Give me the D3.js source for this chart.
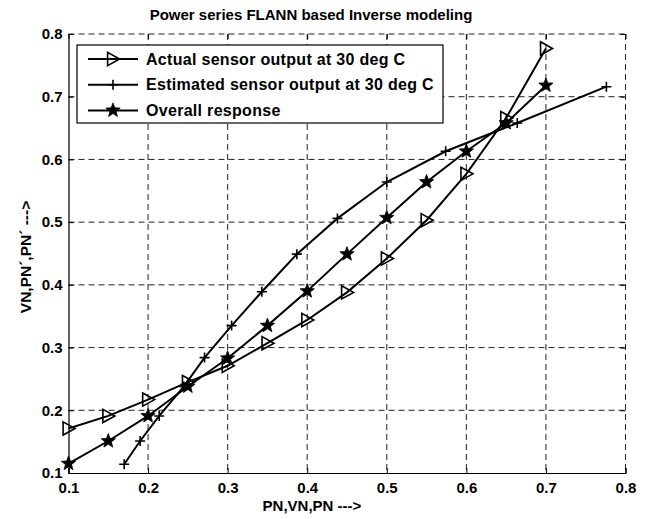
<!DOCTYPE html>
<html>
<head>
<meta charset="utf-8">
<script src="https://cdn.jsdelivr.net/npm/d3@7"></script>
<style>
  html, body { margin: 0; padding: 0; background: #fff; }
  svg { display: block; }
  text { font-family: "Liberation Sans", Arial, sans-serif; font-weight: bold; fill: #000; }
</style>
</head>
<body>
<svg id="chart" width="652" height="519"></svg>
<script>
// ---- data ----
const titleText = "Power series FLANN based Inverse modeling";
const xLabelText = "PN,VN,PN --->";
const yLabelText = "VN,PN\u00B4,PN\u00B4 --->";
const xTicks = [0.1, 0.2, 0.3, 0.4, 0.5, 0.6, 0.7, 0.8];
const yTicks = [0.1, 0.2, 0.3, 0.4, 0.5, 0.6, 0.7, 0.8];

const actualX = [0.10, 0.15, 0.20, 0.25, 0.30, 0.35, 0.40, 0.45, 0.50, 0.55, 0.60, 0.65, 0.70];
const actualY = [0.171, 0.191, 0.217, 0.245, 0.271, 0.307, 0.344, 0.388, 0.442, 0.503, 0.577, 0.666, 0.777];

const estimatedX = [0.170, 0.190, 0.214, 0.245, 0.271, 0.305, 0.343, 0.387, 0.438, 0.500, 0.574, 0.664, 0.776];
const estimatedY = [0.114, 0.151, 0.191, 0.238, 0.284, 0.335, 0.389, 0.449, 0.506, 0.564, 0.613, 0.658, 0.716];

const overallX = [0.10, 0.15, 0.20, 0.25, 0.30, 0.35, 0.40, 0.45, 0.50, 0.55, 0.60, 0.65, 0.70];
const overallY = [0.115, 0.151, 0.191, 0.238, 0.283, 0.335, 0.390, 0.449, 0.507, 0.564, 0.613, 0.658, 0.718];

const seriesNames = ["Actual sensor output at 30 deg C", "Estimated sensor output at 30 deg C", "Overall response"];

// ---- layout ----
const svg = d3.select("#chart");
const L = 68.5, R = 625.5, T = 34, B = 473;
const x = d3.scaleLinear().domain([0.1, 0.8]).range([L, R]);
const y = d3.scaleLinear().domain([0.1, 0.8]).range([B, T]);

// grid
const grid = svg.append("g");
xTicks.slice(1, -1).forEach(v => {
  grid.append("line").attr("x1", x(v)).attr("x2", x(v)).attr("y1", T).attr("y2", B)
    .attr("stroke", "#222").attr("stroke-width", 1).attr("stroke-dasharray", "6,4");
});
yTicks.slice(1, -1).forEach(v => {
  grid.append("line").attr("x1", L).attr("x2", R).attr("y1", y(v)).attr("y2", y(v))
    .attr("stroke", "#222").attr("stroke-width", 1).attr("stroke-dasharray", "6,4");
});
grid.append("line").attr("x1", L).attr("x2", R).attr("y1", T).attr("y2", T)
  .attr("stroke", "#222").attr("stroke-width", 1).attr("stroke-dasharray", "6,4");
grid.append("line").attr("x1", R).attr("x2", R).attr("y1", T).attr("y2", B)
  .attr("stroke", "#222").attr("stroke-width", 1).attr("stroke-dasharray", "6,4");

// axes
const xAxis = d3.axisBottom(x).tickValues(xTicks).tickSize(-5).tickPadding(9).tickFormat(d3.format(".1f"));
const yAxis = d3.axisLeft(y).tickValues(yTicks).tickSize(-5).tickPadding(6).tickFormat(d3.format(".1f"));
const gx = svg.append("g").attr("transform", `translate(0,${B})`).call(xAxis);
const gy = svg.append("g").attr("transform", `translate(${L},0)`).call(yAxis);
[gx, gy].forEach(g => {
  g.select(".domain").attr("stroke", "#000").attr("stroke-width", 1.2);
  g.selectAll(".tick line").attr("stroke", "#000");
  g.selectAll(".tick text").style("font-size", "15px").style("font-weight", "bold")
    .style("font-family", "'Liberation Sans', Arial, sans-serif").attr("fill", "#000");
});
const gt = svg.append("g").attr("transform", `translate(0,${T})`).call(d3.axisTop(x).tickValues(xTicks).tickSize(-5).tickFormat(""));
const gr = svg.append("g").attr("transform", `translate(${R},0)`).call(d3.axisRight(y).tickValues(yTicks).tickSize(-5).tickFormat(""));
[gt, gr].forEach(g => { g.select(".domain").remove(); g.selectAll(".tick line").attr("stroke", "#000"); });

// markers
function triPath(s) {
  return `M${-s*0.45},${-s*0.55} L${s*0.55},0 L${-s*0.45},${s*0.55} Z`;
}
function plusPath(s) {
  return `M${-s/2},0 L${s/2},0 M0,${-s/2} L0,${s/2}`;
}
function starPath(r) {
  const pts = [];
  for (let i = 0; i < 10; i++) {
    const a = -Math.PI / 2 + i * Math.PI / 5;
    const rr = i % 2 === 0 ? r : r * 0.42;
    pts.push([rr * Math.cos(a), rr * Math.sin(a)]);
  }
  return "M" + pts.map(p => p.join(",")).join("L") + "Z";
}
function drawMarker(g, type, cx, cy) {
  if (type === "tri") {
    g.append("path").attr("d", triPath(12)).attr("transform", `translate(${cx},${cy})`)
      .attr("fill", "none").attr("stroke", "#000").attr("stroke-width", 1.6);
  } else if (type === "plus") {
    g.append("path").attr("d", plusPath(10)).attr("transform", `translate(${cx},${cy})`)
      .attr("fill", "none").attr("stroke", "#000").attr("stroke-width", 1.6);
  } else {
    g.append("path").attr("d", starPath(7.5)).attr("transform", `translate(${cx},${cy})`)
      .attr("fill", "#000").attr("stroke", "#000").attr("stroke-width", 0.8);
  }
}

const series = [
  { name: seriesNames[0], xs: actualX, ys: actualY, m: "tri" },
  { name: seriesNames[1], xs: estimatedX, ys: estimatedY, m: "plus" },
  { name: seriesNames[2], xs: overallX, ys: overallY, m: "star" }
];
const line = d3.line().x(d => x(d[0])).y(d => y(d[1]));
const plot = svg.append("g");
series.forEach(s => {
  const pts = s.xs.map((v, i) => [v, s.ys[i]]);
  plot.append("path").attr("d", line(pts)).attr("fill", "none").attr("stroke", "#000").attr("stroke-width", 2);
  pts.forEach(p => drawMarker(plot, s.m, x(p[0]), y(p[1])));
});

// legend
const lg = svg.append("g");
lg.append("rect").attr("x", 77).attr("y", 45).attr("width", 366).attr("height", 78)
  .attr("fill", "#fff").attr("stroke", "#000").attr("stroke-width", 1.2);
series.forEach((s, i) => {
  const cy = 59 + i * 25.7;
  lg.append("line").attr("x1", 88).attr("x2", 138).attr("y1", cy).attr("y2", cy)
    .attr("stroke", "#000").attr("stroke-width", 2);
  drawMarker(lg, s.m, 113, cy);
  lg.append("text").attr("x", 146).attr("y", cy).attr("dy", "0.35em")
    .style("font-size", "16px").style("letter-spacing", "0.3px").text(s.name);
});

// title and labels
svg.append("text").attr("x", 311).attr("y", 15).attr("dy", "0.35em").attr("text-anchor", "middle")
  .style("font-size", "15px").text(titleText);
svg.append("text").attr("x", 312).attr("y", 506).attr("dy", "0.35em").attr("text-anchor", "middle")
  .style("font-size", "15px").text(xLabelText);
svg.append("text").attr("transform", `translate(26,257) rotate(-90)`).attr("dy", "0.35em")
  .attr("text-anchor", "middle").style("font-size", "15.5px").text(yLabelText);
</script>
</body>
</html>
